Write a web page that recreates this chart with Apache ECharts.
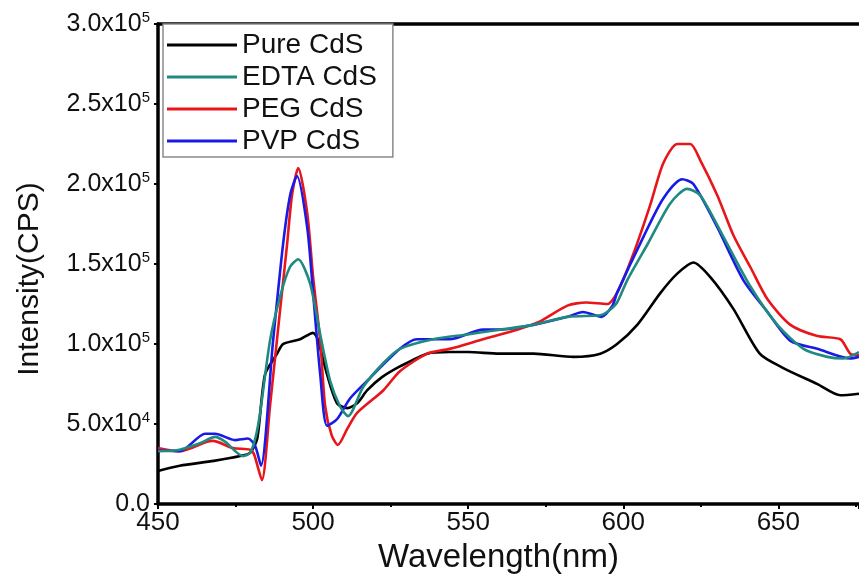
<!DOCTYPE html>
<html>
<head>
<meta charset="utf-8">
<script src="https://cdn.jsdelivr.net/npm/echarts@6/dist/echarts.min.js"></script>
<style>
html,body{margin:0;padding:0;background:#fff;}
#chart{width:859px;height:579px;}
</style>
</head>
<body>
<div id="chart"></div>
<script>
// Intensity values in units of 1e4 CPS, [wavelength nm, intensity]
const UNIT = 1e4;
const seriesNames = ['Pure CdS', 'EDTA CdS', 'PEG CdS', 'PVP CdS'];
const seriesColors = ['#000000', '#1f8a80', '#e8161b', '#1a1ae6'];

const pureCdS = [
  [450,2.07],[457,2.4],[468,2.7],[476.5,3.0],[479.7,3.2],[482,4.1],[484.5,8.1],[488.4,9.4],
  [490.3,10.0],[495.8,10.3],[500,10.7],[501.5,10.3],[504.5,8.1],[507.7,6.3],[511,6.0],
  [514.2,6.3],[517.4,7.1],[522,7.9],[528,8.6],[536.8,9.4],[544,9.5],[550,9.5],[560,9.4],
  [571,9.4],[584,9.2],[592.6,9.4],[598,10.0],[604.5,11.2],[612,13.2],[617.4,14.4],
  [622.6,15.1],[628,14.2],[635.5,12.2],[644,9.4],[651.6,8.5],[662.6,7.5],[670,6.8],[676,6.9]
];
const edtaCdS = [
  [450,3.3],[457,3.4],[463.5,3.8],[468.4,4.2],[471.6,3.9],[477.4,3.0],[479.7,3.2],[481.5,4.2],
  [483,5.8],[486.1,10.2],[489.4,13.0],[492.5,14.8],[495.2,15.3],[499,13.8],[502.3,10.6],
  [505.5,7.7],[508.7,6.1],[511.3,5.5],[516.1,7.3],[522.6,8.8],[528,9.7],[538.7,10.3],
  [549.7,10.6],[560.3,10.9],[571,11.2],[582,11.7],[592.6,11.8],[594.8,12.0],[598,12.6],
  [601.3,14.0],[608,16.3],[615.2,18.8],[620.6,19.7],[624.8,19.3],[632.3,16.7],[641,13.6],
  [649.7,11.2],[658.1,9.7],[665.8,9.2],[671,9.1],[676,9.5]
];
const pegCdS = [
  [450,3.5],[457,3.3],[465.8,3.9],[467.7,3.95],[474.2,3.5],[479.7,3.4],[481,3.1],[483.5,1.5],
  [486.1,6.1],[489.4,12.2],[491.6,16.2],[493.2,19.3],[495.2,21.0],[498.1,18.2],[500,14.2],
  [502.3,10.2],[503.9,6.1],[506,4.3],[508,3.7],[511,4.7],[514.2,5.7],[522.6,7.1],[528,8.3],
  [536.8,9.4],[544,9.7],[554.8,10.3],[565.8,10.9],[573,11.4],[582,12.4],[588,12.6],
  [594.8,12.5],[598,13.2],[603,15.5],[608.7,18.7],[612.9,21.3],[617.4,22.5],[621.6,22.5],
  [624.8,21.5],[630.3,19.3],[635.5,16.8],[641,14.8],[646.5,12.8],[653.9,11.2],[662.6,10.5],
  [670,10.3],[673.2,9.4],[676,9.3]
];
const pvpCdS = [
  [450,3.35],[457,3.3],[465.2,4.4],[468.4,4.4],[474.8,4.0],[479,4.1],[481.3,3.65],[483.2,2.4],
  [487.1,10.2],[490.3,16.2],[492.6,19.3],[494.8,20.5],[498.1,17.3],[500,13.2],[502.3,8.1],
  [504.5,4.9],[507.7,5.3],[511.9,6.6],[517.4,7.7],[528,9.7],[533.5,10.3],[544,10.3],
  [554.8,10.9],[560.3,10.9],[571,11.2],[582,11.7],[587,12.0],[593,11.7],[596.5,12.4],
  [598,13.2],[606.5,16.7],[612.9,19.1],[619,20.3],[622.6,20.0],[630.3,17.3],[638.7,14.0],
  [646.5,12.0],[653.9,10.2],[662.6,9.7],[673.2,9.1],[676,9.2]
];
const allSeries = [pureCdS, edtaCdS, pegCdS, pvpCdS];

const xTickLabels = ['450', '500', '550', '600', '650'];
const yTickBase = ['0.0', '5.0x10', '1.0x10', '1.5x10', '2.0x10', '2.5x10', '3.0x10'];
const yTickExp  = ['', '4', '5', '5', '5', '5', '5'];

const FONT = 'Arial, "Liberation Sans", sans-serif';
const chart = echarts.init(document.getElementById('chart'), null, {renderer: 'canvas'});

const axisLineStyle = {color: '#000', width: 3.5};

chart.setOption({
  animation: false,
  backgroundColor: '#fff',
  grid: {left: 158, right: 0, top: 24, bottom: 62, containLabel: false},
  legend: {
    orient: 'vertical',
    left: 163, top: 24,
    padding: [7, 16, 2, 4],
    icon: 'rect',
    itemWidth: 70, itemHeight: 3, itemGap: 4,
    borderColor: '#8a8a8a', borderWidth: 1.5,
    backgroundColor: '#fff',
    textStyle: {fontFamily: FONT, fontSize: 28, color: '#111', lineHeight: 26},
    data: seriesNames
  },
  xAxis: [{
    type: 'value', min: 450, max: 676, interval: 50,
    name: 'Wavelength(nm)', nameLocation: 'middle', nameGap: 35,
    nameTextStyle: {fontFamily: FONT, fontSize: 33, color: '#111', padding: [0, 20, 0, 0]},
    axisLine: {lineStyle: axisLineStyle},
    axisTick: {show: true, length: 5, lineStyle: {color: '#000', width: 2}},
    minorTick: {show: true, splitNumber: 2, length: 3, lineStyle: {color: '#000', width: 2}},
    splitLine: {show: false},
    axisLabel: {
      fontFamily: FONT, fontSize: 26, color: '#111', margin: 6, showMaxLabel: false,
      formatter: (v) => { const i = Math.round((v - 450) / 50); return xTickLabels[i] !== undefined ? xTickLabels[i] : ''; }
    }
  }, {
    type: 'value', min: 450, max: 676, position: 'top',
    axisLine: {onZero: false, lineStyle: axisLineStyle},
    axisTick: {show: false}, axisLabel: {show: false}, splitLine: {show: false}
  }],
  yAxis: {
    type: 'value', min: 0, max: 300000, interval: 50000,
    name: 'Intensity(CPS)', nameLocation: 'middle', nameGap: 113,
    nameTextStyle: {fontFamily: FONT, fontSize: 30, color: '#111', padding: [0, 30, 0, 0]},
    axisLine: {show: true, lineStyle: axisLineStyle},
    axisTick: {show: true, length: 4, lineStyle: {color: '#000', width: 2}},
    splitLine: {show: false},
    axisLabel: {
      margin: 8,
      formatter: (v, i) => '{b|' + yTickBase[i] + '}' + (yTickExp[i] ? '{s|' + yTickExp[i] + '}' : ''),
      rich: {
        b: {fontFamily: FONT, fontSize: 25, color: '#111', lineHeight: 28},
        s: {fontFamily: FONT, fontSize: 15, color: '#111', lineHeight: 28, verticalAlign: 'top', padding: [0,0,14,0]}
      }
    }
  },
  series: allSeries.map((arr, k) => ({
    name: seriesNames[k],
    type: 'line',
    xAxisIndex: 0,
    data: arr.map(p => [p[0], p[1] * UNIT]),
    showSymbol: false, symbol: 'none',
    smooth: 0.25,
    lineStyle: {color: seriesColors[k], width: 2.6},
    itemStyle: {color: seriesColors[k]},
    z: [1, 4, 2, 3][k]
  }))
});
</script>
</body>
</html>
